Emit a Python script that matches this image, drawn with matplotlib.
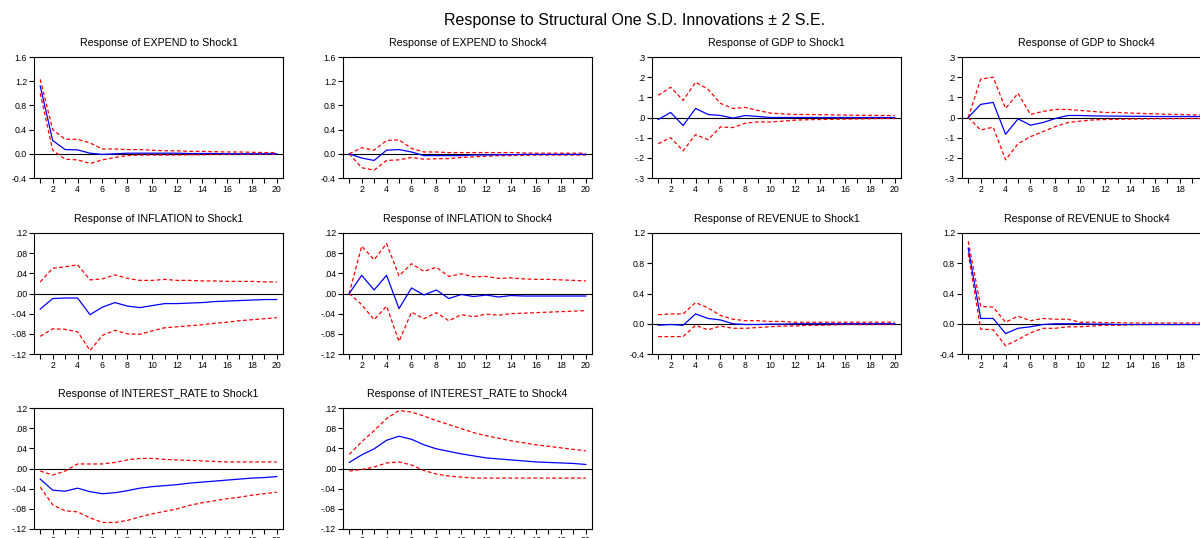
import numpy as np
import matplotlib.pyplot as plt

plt.rcParams['font.family'] = ['Liberation Sans', 'DejaVu Sans']

periods = list(range(1, 21))

titles = [
    "Response of EXPEND to Shock1", "Response of EXPEND to Shock4",
    "Response of GDP to Shock1", "Response of GDP to Shock4",
    "Response of INFLATION to Shock1", "Response of INFLATION to Shock4",
    "Response of REVENUE to Shock1", "Response of REVENUE to Shock4",
    "Response of INTEREST_RATE to Shock1", "Response of INTEREST_RATE to Shock4",
]

# point estimates
expend_s1 = [1.12, 0.22, 0.07, 0.065, 0.01, -0.01, 0.0, 0.01, 0.01, 0.01, 0.01, 0.01, 0.005, 0.005, 0.005, 0.0, 0.0, 0.0, 0.0, 0.0]
expend_s4 = [0.0, -0.07, -0.11, 0.06, 0.07, 0.03, -0.03, -0.03, -0.03, -0.03, -0.02, -0.02, -0.015, -0.015, -0.01, -0.01, -0.01, -0.01, -0.01, -0.01]
gdp_s1 = [-0.01, 0.025, -0.04, 0.045, 0.015, 0.01, -0.003, 0.01, 0.005, 0.0, 0.0, 0.0, 0.0, 0.0, 0.0, 0.0, 0.0, 0.0, 0.0, 0.0]
gdp_s4 = [0.0, 0.065, 0.075, -0.083, -0.007, -0.038, -0.025, -0.005, 0.01, 0.01, 0.008, 0.007, 0.007, 0.006, 0.006, 0.005, 0.005, 0.005, 0.005, 0.005]
infl_s1 = [-0.031, -0.010, -0.009, -0.009, -0.042, -0.027, -0.018, -0.025, -0.028, -0.024, -0.020, -0.020, -0.019, -0.018, -0.016, -0.015, -0.014, -0.013, -0.012, -0.012]
infl_s4 = [0.0, 0.036, 0.007, 0.036, -0.030, 0.011, -0.003, 0.007, -0.010, -0.002, -0.006, -0.003, -0.007, -0.004, -0.005, -0.005, -0.005, -0.005, -0.005, -0.005]
rev_s1 = [-0.02, -0.01, -0.02, 0.13, 0.07, 0.05, 0.0, -0.01, -0.01, -0.005, -0.005, 0.0, 0.0, 0.0, 0.0, 0.0, 0.0, 0.0, 0.0, 0.0]
rev_s4 = [1.0, 0.07, 0.07, -0.13, -0.06, -0.04, -0.01, 0.0, 0.0, 0.0, -0.005, -0.005, -0.01, -0.01, -0.01, -0.01, -0.01, -0.01, -0.01, -0.01]
ir_s1 = [-0.021, -0.043, -0.045, -0.039, -0.046, -0.050, -0.048, -0.044, -0.039, -0.036, -0.034, -0.032, -0.029, -0.027, -0.025, -0.023, -0.021, -0.019, -0.018, -0.016]
ir_s4 = [0.012, 0.027, 0.039, 0.056, 0.064, 0.058, 0.047, 0.039, 0.034, 0.029, 0.025, 0.021, 0.019, 0.017, 0.015, 0.013, 0.012, 0.011, 0.010, 0.008]

# +2 S.E. bands
expend_s1_hi = [1.23, 0.40, 0.24, 0.24, 0.18, 0.08, 0.08, 0.07, 0.07, 0.06, 0.05, 0.05, 0.04, 0.04, 0.035, 0.03, 0.03, 0.025, 0.02, 0.02]
expend_s4_hi = [0.0, 0.10, 0.06, 0.22, 0.23, 0.09, 0.03, 0.03, 0.02, 0.02, 0.02, 0.02, 0.02, 0.02, 0.015, 0.01, 0.01, 0.01, 0.01, 0.01]
gdp_s1_hi = [0.11, 0.15, 0.085, 0.175, 0.14, 0.07, 0.045, 0.05, 0.035, 0.022, 0.018, 0.015, 0.015, 0.014, 0.013, 0.012, 0.011, 0.011, 0.01, 0.01]
gdp_s4_hi = [0.0, 0.19, 0.20, 0.045, 0.12, 0.015, 0.03, 0.04, 0.04, 0.035, 0.03, 0.025, 0.025, 0.022, 0.02, 0.018, 0.016, 0.015, 0.013, 0.012]
infl_s1_hi = [0.023, 0.050, 0.053, 0.057, 0.027, 0.029, 0.037, 0.030, 0.026, 0.026, 0.028, 0.026, 0.026, 0.025, 0.025, 0.024, 0.024, 0.024, 0.023, 0.023]
infl_s4_hi = [0.0, 0.094, 0.067, 0.099, 0.035, 0.059, 0.044, 0.052, 0.034, 0.039, 0.033, 0.034, 0.030, 0.031, 0.029, 0.028, 0.028, 0.027, 0.026, 0.025]
rev_s1_hi = [0.12, 0.13, 0.13, 0.28, 0.21, 0.11, 0.06, 0.04, 0.04, 0.03, 0.03, 0.02, 0.02, 0.02, 0.02, 0.02, 0.02, 0.02, 0.02, 0.02]
rev_s4_hi = [1.09, 0.23, 0.22, 0.02, 0.10, 0.04, 0.07, 0.06, 0.06, 0.02, 0.02, 0.015, 0.015, 0.01, 0.01, 0.01, 0.01, 0.01, 0.01, 0.01]
ir_s1_hi = [-0.005, -0.013, -0.005, 0.009, 0.009, 0.009, 0.012, 0.017, 0.020, 0.020, 0.018, 0.017, 0.016, 0.015, 0.014, 0.013, 0.013, 0.013, 0.013, 0.013]
ir_s4_hi = [0.028, 0.053, 0.075, 0.099, 0.115, 0.112, 0.104, 0.095, 0.087, 0.079, 0.071, 0.065, 0.060, 0.055, 0.051, 0.047, 0.044, 0.041, 0.038, 0.035]

# -2 S.E. bands
expend_s1_lo = [1.0, 0.06, -0.09, -0.10, -0.16, -0.10, -0.06, -0.03, -0.02, -0.02, -0.02, -0.02, -0.015, -0.015, -0.01, -0.01, -0.01, -0.01, -0.01, -0.01]
expend_s4_lo = [0.0, -0.23, -0.27, -0.11, -0.10, -0.06, -0.09, -0.08, -0.08, -0.06, -0.05, -0.04, -0.03, -0.03, -0.025, -0.02, -0.02, -0.02, -0.02, -0.02]
gdp_s1_lo = [-0.13, -0.10, -0.165, -0.085, -0.11, -0.047, -0.05, -0.028, -0.022, -0.022, -0.018, -0.013, -0.011, -0.01, -0.009, -0.008, -0.007, -0.006, -0.005, -0.005]
gdp_s4_lo = [0.0, -0.062, -0.048, -0.21, -0.13, -0.095, -0.07, -0.045, -0.025, -0.018, -0.012, -0.01, -0.009, -0.008, -0.007, -0.006, -0.006, -0.005, -0.005, -0.005]
infl_s1_lo = [-0.085, -0.070, -0.071, -0.076, -0.113, -0.083, -0.073, -0.080, -0.081, -0.074, -0.068, -0.066, -0.064, -0.062, -0.059, -0.057, -0.054, -0.052, -0.050, -0.048]
infl_s4_lo = [0.0, -0.022, -0.052, -0.025, -0.095, -0.037, -0.050, -0.038, -0.054, -0.042, -0.046, -0.041, -0.043, -0.040, -0.039, -0.038, -0.037, -0.036, -0.035, -0.034]
rev_s1_lo = [-0.17, -0.17, -0.17, -0.02, -0.08, -0.03, -0.06, -0.06, -0.05, -0.04, -0.03, -0.03, -0.02, -0.02, -0.015, -0.01, -0.01, -0.01, -0.01, -0.01]
rev_s4_lo = [0.93, -0.07, -0.08, -0.29, -0.21, -0.12, -0.06, -0.06, -0.04, -0.04, -0.03, -0.02, -0.02, -0.015, -0.01, -0.01, -0.01, -0.01, -0.01, -0.01]
ir_s1_lo = [-0.037, -0.072, -0.084, -0.086, -0.098, -0.107, -0.107, -0.103, -0.096, -0.090, -0.085, -0.080, -0.073, -0.068, -0.064, -0.060, -0.057, -0.053, -0.050, -0.047]
ir_s4_lo = [-0.005, -0.002, 0.003, 0.011, 0.013, 0.007, -0.004, -0.011, -0.015, -0.017, -0.019, -0.019, -0.019, -0.019, -0.019, -0.019, -0.019, -0.019, -0.019, -0.019]

responses = [expend_s1, expend_s4, gdp_s1, gdp_s4, infl_s1, infl_s4, rev_s1, rev_s4, ir_s1, ir_s4]
uppers = [expend_s1_hi, expend_s4_hi, gdp_s1_hi, gdp_s4_hi, infl_s1_hi, infl_s4_hi, rev_s1_hi, rev_s4_hi, ir_s1_hi, ir_s4_hi]
lowers = [expend_s1_lo, expend_s4_lo, gdp_s1_lo, gdp_s4_lo, infl_s1_lo, infl_s4_lo, rev_s1_lo, rev_s4_lo, ir_s1_lo, ir_s4_lo]

# y ticks per variable
expend_ticks = [-0.4, 0.0, 0.4, 0.8, 1.2, 1.6]
expend_labels = ["-0.4", "0.0", "0.4", "0.8", "1.2", "1.6"]
gdp_ticks = [-0.3, -0.2, -0.1, 0.0, 0.1, 0.2, 0.3]
gdp_labels = ["-.3", "-.2", "-.1", ".0", ".1", ".2", ".3"]
small_ticks = [-0.12, -0.08, -0.04, 0.0, 0.04, 0.08, 0.12]
small_labels = ["-.12", "-.08", "-.04", ".00", ".04", ".08", ".12"]
rev_ticks = [-0.4, 0.0, 0.4, 0.8, 1.2]
rev_labels = ["-0.4", "0.0", "0.4", "0.8", "1.2"]

yticks = [expend_ticks, expend_ticks, gdp_ticks, gdp_ticks, small_ticks, small_ticks,
          rev_ticks, rev_ticks, small_ticks, small_ticks]
ylabels = [expend_labels, expend_labels, gdp_labels, gdp_labels, small_labels, small_labels,
           rev_labels, rev_labels, small_labels, small_labels]

W, H = 1200, 538
fig = plt.figure(figsize=(W / 100, H / 100), dpi=100)

col_left = [34, 343, 652, 962]
row_top = [57, 233, 408]
aw, ah = 249, 121

fig.text(635 / W, 1 - 21 / H, "Response to Structural One S.D. Innovations \u00b1 2 S.E.",
         ha="center", va="center", fontsize=11.5)

for i in range(10):
    r, c = divmod(i, 4)
    ax = fig.add_axes([col_left[c] / W, 1 - (row_top[r] + ah) / H, aw / W, ah / H])
    ax.plot(periods, uppers[i], color="#ff0000", lw=0.9, ls=(0, (3, 2)))
    ax.plot(periods, lowers[i], color="#ff0000", lw=0.9, ls=(0, (3, 2)))
    ax.plot(periods, responses[i], color="#0000ff", lw=0.9)
    ax.axhline(0, color="black", lw=0.8, zorder=0)
    ax.set_xlim(0.5, 20.5)
    ax.set_ylim(yticks[i][0], yticks[i][-1])
    ax.set_yticks(yticks[i])
    ax.set_yticklabels(ylabels[i])
    ax.set_xticks(periods)
    ax.set_xticklabels([str(p) if p % 2 == 0 else "" for p in periods])
    ax.tick_params(direction="out", length=3.5, width=0.8, labelsize=6.3, pad=1.5)
    for s in ax.spines.values():
        s.set_linewidth(0.8)
    ax.set_title(titles[i], fontsize=7.7, pad=8)

fig.savefig("out.png", dpi=100)
